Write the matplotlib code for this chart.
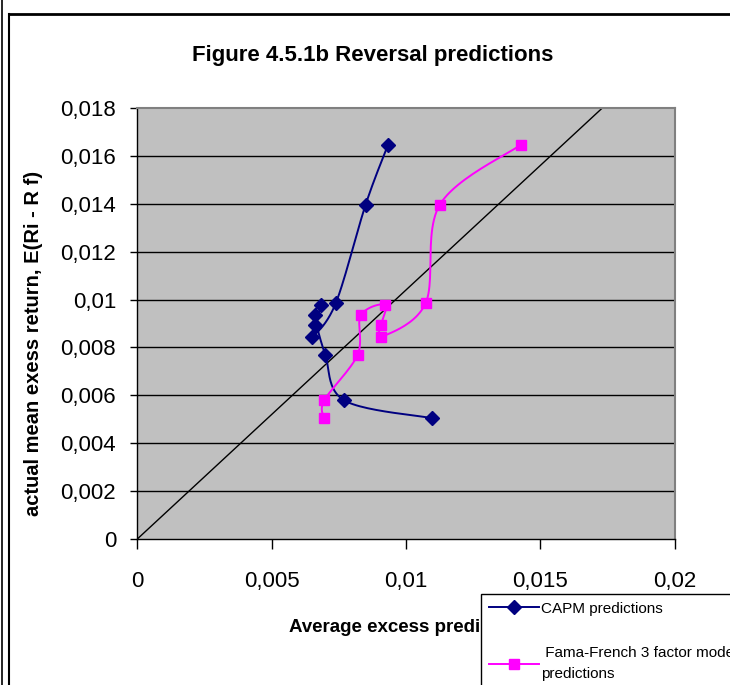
import numpy as np
import matplotlib
matplotlib.use('Agg')
import matplotlib.pyplot as plt
from matplotlib.lines import Line2D
from matplotlib.ticker import FuncFormatter

plt.rcParams['font.family'] = ['Liberation Sans', 'DejaVu Sans']

# actual mean excess return of the 10 reversal portfolios (same for both series)
actual_ret = [0.00505, 0.00579, 0.00769, 0.00934, 0.00979,
              0.00892, 0.00843, 0.00985, 0.01396, 0.01645]
# predicted excess returns
capm_pred = [0.01098, 0.00771, 0.00700, 0.00662, 0.00684,
             0.00662, 0.00652, 0.00739, 0.00850, 0.00933]
ff3_pred = [0.00696, 0.00696, 0.00820, 0.00832, 0.00923,
            0.00907, 0.00907, 0.01073, 0.01126, 0.01426]

# reference line drawn in the original chart
ref_x = [0.0, 0.01731]
ref_y = [0.0, 0.018]

x_ticks = [0, 0.005, 0.01, 0.015, 0.02]
y_ticks = [0, 0.002, 0.004, 0.006, 0.008, 0.01, 0.012, 0.014, 0.016, 0.018]

NAVY = '#000080'
MAGENTA = '#FF00FF'


def smooth(x, y, n=25):
    # Excel-style smoothed line: cubic bezier through the points
    pts = np.column_stack([x, y])
    P = np.vstack([pts[0], pts, pts[-1]])
    t = np.linspace(0, 1, n)[:, None]
    out = []
    for i in range(1, len(P) - 2):
        p0, p1, p2, p3 = P[i - 1], P[i], P[i + 1], P[i + 2]
        c1 = p1 + (p2 - p0) / 6
        c2 = p2 - (p3 - p1) / 6
        seg = (1 - t) ** 3 * p1 + 3 * (1 - t) ** 2 * t * c1 + 3 * (1 - t) * t ** 2 * c2 + t ** 3 * p2
        out.append(seg)
    return np.vstack(out)


def comma_fmt(v, pos):
    if abs(v) < 1e-12:
        return '0'
    s = ('%.3f' % v).rstrip('0').rstrip('.')
    return s.replace('.', ',')


W, H = 730, 685
fig = plt.figure(figsize=(W / 100, H / 100), dpi=100)
fig.patch.set_facecolor('white')

ax = fig.add_axes([137 / W, 1 - 539.3 / H, 538 / W, 431.6 / H])
ax.set_facecolor('#C0C0C0')
ax.set_xlim(0, 0.02)
ax.set_ylim(0, 0.018)
ax.set_xticks(x_ticks)
ax.set_yticks(y_ticks)
ax.xaxis.set_major_formatter(FuncFormatter(comma_fmt))
ax.yaxis.set_major_formatter(FuncFormatter(comma_fmt))
ax.tick_params(axis='y', length=5, width=1, pad=10, labelsize=16)
ax.tick_params(axis='x', length=7, width=1, pad=16, labelsize=16)
for yv in y_ticks[1:-1]:
    ax.axhline(yv, color='black', lw=1, zorder=1)
for side in ['top', 'right']:
    ax.spines[side].set_color('#808080')
    ax.spines[side].set_linewidth(1.5)
for side in ['left', 'bottom']:
    ax.spines[side].set_color('black')
    ax.spines[side].set_linewidth(1)

ax.plot(ref_x, ref_y, color='black', lw=1, zorder=2)

c = smooth(capm_pred, actual_ret)
ax.plot(c[:, 0], c[:, 1], color=NAVY, lw=1.4, zorder=3)
ax.plot(capm_pred, actual_ret, ls='none', marker='D', ms=7, color=NAVY, zorder=4)

f = smooth(ff3_pred, actual_ret)
ax.plot(f[:, 0], f[:, 1], color=MAGENTA, lw=1.4, zorder=3)
ax.plot(ff3_pred, actual_ret, ls='none', marker='s', ms=7, color=MAGENTA, zorder=4)

fig.text(373 / W, 1 - 55 / H, 'Figure 4.5.1b Reversal predictions',
         ha='center', va='center', fontsize=16, fontweight='bold')
fig.text(34 / W, 1 - 343 / H, 'actual mean exess return, E(Ri - R f)',
         ha='center', va='center', rotation=90, fontsize=14.5, fontweight='bold')
fig.text(289 / W, 1 - 627 / H, 'Average excess predicted return',
         ha='left', va='center', fontsize=13.5, fontweight='bold')

handles = [Line2D([], [], color=NAVY, lw=1.4, marker='D', ms=7),
           Line2D([], [], color=MAGENTA, lw=1.4, marker='s', ms=7)]
labels = ['CAPM predictions', ' Fama-French 3 factor model\npredictions']
leg = fig.legend(handles, labels, loc='upper left',
                 bbox_to_anchor=(481 / W, 1 - 594 / H), borderaxespad=0,
                 fontsize=11, frameon=True, fancybox=False, framealpha=1,
                 edgecolor='black', handlelength=3.3, handletextpad=0.1,
                 labelspacing=2.0, borderpad=0.5)
leg.get_frame().set_linewidth(1)
leg.get_texts()[1].set_linespacing(1.6)
leg.set_zorder(10)

# outer frame lines of the chart object
fig.add_artist(Line2D([2 / W, 2 / W], [0, 1], color='black', lw=1.2))
fig.add_artist(Line2D([9 / W, 9 / W], [0, 1 - 14 / H], color='black', lw=1.5))
fig.add_artist(Line2D([9 / W, 1], [1 - 14 / H, 1 - 14 / H], color='black', lw=2))

fig.savefig('out.png', dpi=100)
